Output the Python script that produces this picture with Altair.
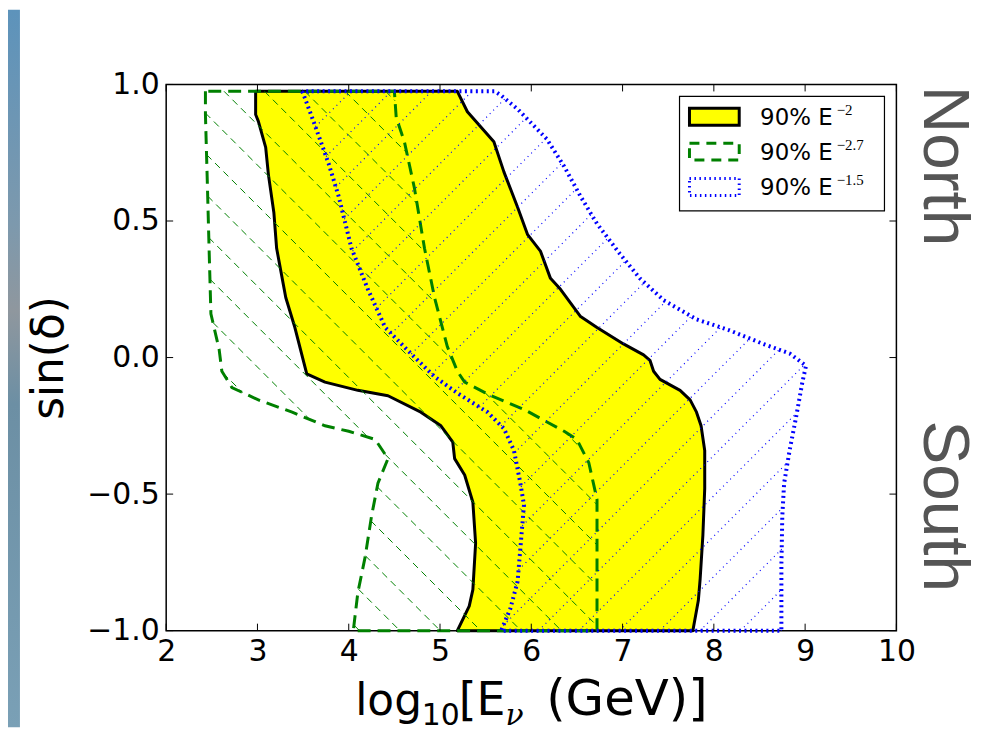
import altair as alt
import pandas as pd
import numpy as np

W, H = 734, 549
XMIN, XMAX, YMIN, YMAX = 2, 10, -1, 1

# ---- data ----
yellow_x = [2.98, 2.98, 3.01, 3.09, 3.12, 3.18, 3.21, 3.31, 3.41, 3.54,
            3.74, 4.10, 4.43, 4.79, 5.01, 5.14, 5.16, 5.27, 5.36, 5.39,
            5.36, 5.32, 5.19, 7.77, 7.83, 7.85, 7.88, 7.90, 7.90, 7.86,
            7.81, 7.74, 7.63, 7.41, 7.34, 7.30, 7.23, 7.01, 6.72, 6.54,
            6.32, 6.21, 6.10, 5.96, 5.85, 5.70, 5.59, 5.30, 5.19]
yellow_y = [0.975, 0.89, 0.865, 0.77, 0.67, 0.53, 0.40, 0.22, 0.11, -0.06,
            -0.09, -0.12, -0.14, -0.20, -0.25, -0.31, -0.37, -0.43, -0.53, -0.68,
            -0.85, -0.91, -1.0, -1.0, -0.89, -0.81, -0.65, -0.48, -0.34, -0.25,
            -0.20, -0.155, -0.12, -0.08, -0.05, -0.01, 0.01, 0.05, 0.11, 0.15,
            0.25, 0.29, 0.39, 0.45, 0.55, 0.68, 0.79, 0.90, 0.975]

green_x = [2.43, 2.43, 2.45, 2.47, 2.49, 2.58, 2.61, 2.72, 3.01, 3.38,
           3.74, 4.00, 4.29, 4.43, 4.32, 4.25, 4.18, 4.10, 4.05, 6.72,
           6.72, 6.68, 6.63, 6.50, 6.36, 6.14, 5.92, 5.56, 5.27, 5.19,
           5.08, 4.94, 4.83, 4.72, 4.61, 4.52, 4.50]
green_y = [0.975, 0.89, 0.65, 0.40, 0.16, 0.03, -0.05, -0.11, -0.155, -0.20,
           -0.25, -0.27, -0.30, -0.37, -0.46, -0.58, -0.73, -0.86, -1.0, -1.0,
           -0.52, -0.46, -0.385, -0.30, -0.27, -0.23, -0.19, -0.14, -0.09, -0.05,
           0.04, 0.22, 0.40, 0.62, 0.79, 0.88, 0.975]

blue_x = [3.49, 3.52, 3.63, 3.78, 3.89, 4.03, 4.21, 4.40, 4.68, 4.94,
          5.19, 5.52, 5.70, 5.81, 5.88, 5.92, 5.88, 5.85, 5.77, 5.67,
          8.74, 8.74, 8.75, 8.77, 8.83, 8.90, 8.97, 9.01, 8.83, 8.54,
          8.17, 7.81, 7.45, 7.19, 6.97, 6.72, 6.54, 6.36, 6.17, 5.85,
          5.67, 5.60]
blue_y = [0.975, 0.95, 0.85, 0.71, 0.59, 0.40, 0.25, 0.11, 0.015, -0.07,
          -0.13, -0.20, -0.26, -0.34, -0.46, -0.54, -0.70, -0.82, -0.92, -1.0,
          -1.0, -0.76, -0.58, -0.46, -0.34, -0.22, -0.09, -0.03, 0.015, 0.05,
          0.10, 0.14, 0.21, 0.29, 0.38, 0.49, 0.59, 0.70, 0.80, 0.91,
          0.96, 0.975]

x_ticks = [2, 3, 4, 5, 6, 7, 8, 9, 10]
y_ticks = [-1.0, -0.5, 0.0, 0.5, 1.0]
legend_main = ["90% E", "90% E", "90% E"]
legend_sup = ["\u22122", "\u22122.7", "\u22121.5"]

# ---- helpers ----
def to_px(x, y):
    return (x - XMIN) / (XMAX - XMIN) * W, (YMAX - y) / (YMAX - YMIN) * H

def to_data(px, py):
    return XMIN + px / W * (XMAX - XMIN), YMAX - py / H * (YMAX - YMIN)

def poly_df(xs, ys):
    xs = list(xs) + [xs[0]]
    ys = list(ys) + [ys[0]]
    return pd.DataFrame({"x": xs, "y": ys, "i": range(len(xs))})

def hatch(xs, ys, kind, phase, spacing=40.6):
    pts = [to_px(a, b) for a, b in zip(xs, ys)]
    pts.append(pts[0])
    if kind == "back":
        vals = [p[1] - p[0] for p in pts]
    else:
        vals = [p[1] + p[0] for p in pts]
    lo, hi = min(vals), max(vals)
    c = phase + np.floor((lo - phase) / spacing) * spacing
    segs = []
    while c <= hi:
        inter = []
        for p1, p2, v1, v2 in zip(pts[:-1], pts[1:], vals[:-1], vals[1:]):
            f1, f2 = v1 - c, v2 - c
            if (f1 < 0) != (f2 < 0):
                t = f1 / (f1 - f2)
                inter.append((p1[0] + t * (p2[0] - p1[0]), p1[1] + t * (p2[1] - p1[1])))
        inter.sort()
        for a, b in zip(inter[0::2], inter[1::2]):
            x1, y1 = to_data(*a)
            x2, y2 = to_data(*b)
            segs.append(dict(x=x1, y=y1, x2=x2, y2=y2))
        c += spacing
    return pd.DataFrame(segs)

xscale = alt.Scale(domain=[XMIN, XMAX], nice=False, zero=False)
yscale = alt.Scale(domain=[YMIN, YMAX], nice=False, zero=False)
LABEL_FONT = "DejaVu Sans"
xaxis = alt.Axis(values=x_ticks, format="d", ticks=False, domain=False, grid=False,
                 labelFont=LABEL_FONT, labelFontSize=30, labelColor="black",
                 labelPadding=6, labelFlush=False, labelOverlap=False, title=None)
yaxis = alt.Axis(values=y_ticks, format=".1f", ticks=False, domain=False, grid=False,
                 labelFont=LABEL_FONT, labelFontSize=30, labelColor="black",
                 labelPadding=7, labelFlush=False, labelOverlap=False, title=None)

def X(f="x"):
    return alt.X(f"{f}:Q", scale=xscale, axis=xaxis)

def Y(f="y"):
    return alt.Y(f"{f}:Q", scale=yscale, axis=yaxis)

one = pd.DataFrame({"a": [0]})

# slide frame strip on the left
band = alt.Chart(one).mark_rect(
    fill=alt.LinearGradient(gradient="linear", x1=0, x2=0, y1=0, y2=1,
                            stops=[alt.GradientStop(color="#5d93bb", offset=0),
                                   alt.GradientStop(color="#7d99ad", offset=0.3),
                                   alt.GradientStop(color="#8f979e", offset=0.42),
                                   alt.GradientStop(color="#6c8fa4", offset=0.55),
                                   alt.GradientStop(color="#7aa0b6", offset=1)])
).encode(x=alt.value(-159), x2=alt.value(-147), y=alt.value(-75), y2=alt.value(H + 97))

yellow = alt.Chart(poly_df(yellow_x, yellow_y)).mark_line(
    fill="#ffff00", stroke="black", strokeWidth=3, strokeJoin="round"
).encode(x=X(), y=Y(), order="i:Q")

g_hatch = alt.Chart(hatch(green_x, green_y, "back", 29.9)).mark_rule(
    color="#008000", strokeWidth=1, strokeDash=[7, 5]
).encode(x=X(), y=Y(), x2="x2:Q", y2="y2:Q")
green = alt.Chart(poly_df(green_x, green_y)).mark_line(
    stroke="#008000", strokeWidth=3, strokeDash=[13, 7]
).encode(x=X(), y=Y(), order="i:Q")

b_hatch = alt.Chart(hatch(blue_x, blue_y, "fwd", 30.1)).mark_rule(
    color="#0000ff", strokeWidth=1.2, strokeDash=[1, 4]
).encode(x=X(), y=Y(), x2="x2:Q", y2="y2:Q")
blue = alt.Chart(poly_df(blue_x, blue_y)).mark_line(
    stroke="#0000ff", strokeWidth=4, strokeDash=[2, 3.5]
).encode(x=X(), y=Y(), order="i:Q")

# inward ticks on all four sides
tlx = 7 / W * (XMAX - XMIN)
tly = 7 / H * (YMAX - YMIN)
tick_rows = []
for t in x_ticks:
    tick_rows.append(dict(x=t, y=YMIN, x2=t, y2=YMIN + tly))
    tick_rows.append(dict(x=t, y=YMAX, x2=t, y2=YMAX - tly))
for t in y_ticks:
    tick_rows.append(dict(x=XMIN, y=t, x2=XMIN + tlx, y2=t))
    tick_rows.append(dict(x=XMAX, y=t, x2=XMAX - tlx, y2=t))
ticks = alt.Chart(pd.DataFrame(tick_rows)).mark_rule(color="black", strokeWidth=1).encode(
    x=X(), y=Y(), x2="x2:Q", y2="y2:Q")

def txt(s, x, y, size, font=LABEL_FONT, color="black", angle=0, align="left",
        baseline="alphabetic", style="normal"):
    return alt.Chart(one).mark_text(
        text=s, font=font, fontSize=size, color=color, angle=angle, align=align,
        baseline=baseline, fontStyle=style
    ).encode(x=alt.value(x), y=alt.value(y))

north = txt("North", 782, 82, 66, font="Liberation Sans", color="#555555", angle=90,
            align="center", baseline="middle")
south = txt("South", 782, 424, 66, font="Liberation Sans", color="#555555", angle=90,
            align="center", baseline="middle")

ytitle = txt("sin(\u03b4)", -117, 275, 44, angle=270, align="center", baseline="middle")
xt = [
    txt("log", 190, 634, 44),
    txt("10", 257, 644, 30),
    txt("[E", 294, 634, 46),
    txt("\u03bd", 341, 644, 30, font="DejaVu Serif", style="italic"),
    txt("(GeV)]", 382, 634, 50),
]

# legend
lx0, ly0, lx1, ly1 = 516, 12, 722, 127
legend_box = alt.Chart(one).mark_rect(fill="white", stroke="black", strokeWidth=1.2).encode(
    x=alt.value(lx0), x2=alt.value(lx1), y=alt.value(ly0), y2=alt.value(ly1))
rows_y = [32.5, 67.5, 103]
patches = [
    alt.Chart(one).mark_rect(fill="#ffff00", stroke="black", strokeWidth=3).encode(
        x=alt.value(526), x2=alt.value(576), y=alt.value(rows_y[0] - 8.5), y2=alt.value(rows_y[0] + 8.5)),
    alt.Chart(one).mark_rect(fill="white", fillOpacity=0, stroke="#008000", strokeWidth=3,
                             strokeDash=[10, 7]).encode(
        x=alt.value(526), x2=alt.value(576), y=alt.value(rows_y[1] - 8.5), y2=alt.value(rows_y[1] + 8.5)),
    alt.Chart(one).mark_rect(fill="white", fillOpacity=0, stroke="#0000ff", strokeWidth=3,
                             strokeDash=[1.5, 3.5]).encode(
        x=alt.value(526), x2=alt.value(576), y=alt.value(rows_y[2] - 8.5), y2=alt.value(rows_y[2] + 8.5)),
]
legend_txt = []
for ry, m, s in zip(rows_y, legend_main, legend_sup):
    legend_txt.append(txt(m, 597, ry + 8, 23))
    legend_txt.append(txt(s, 674, ry - 2, 15, font="Liberation Serif"))

layers = [band, yellow, g_hatch, green, b_hatch, blue, ticks, north, south, ytitle] + xt + \
         [legend_box] + patches + legend_txt

chart = alt.layer(*layers).properties(
    width=W, height=H,
    autosize=alt.AutoSizeParams(type="none"),
    padding={"left": 159, "top": 75, "right": 78, "bottom": 97},
    background="white",
).configure_view(stroke="black", strokeWidth=1.5)

chart.save("out.html", embed_options={"renderer": "svg", "actions": False})
